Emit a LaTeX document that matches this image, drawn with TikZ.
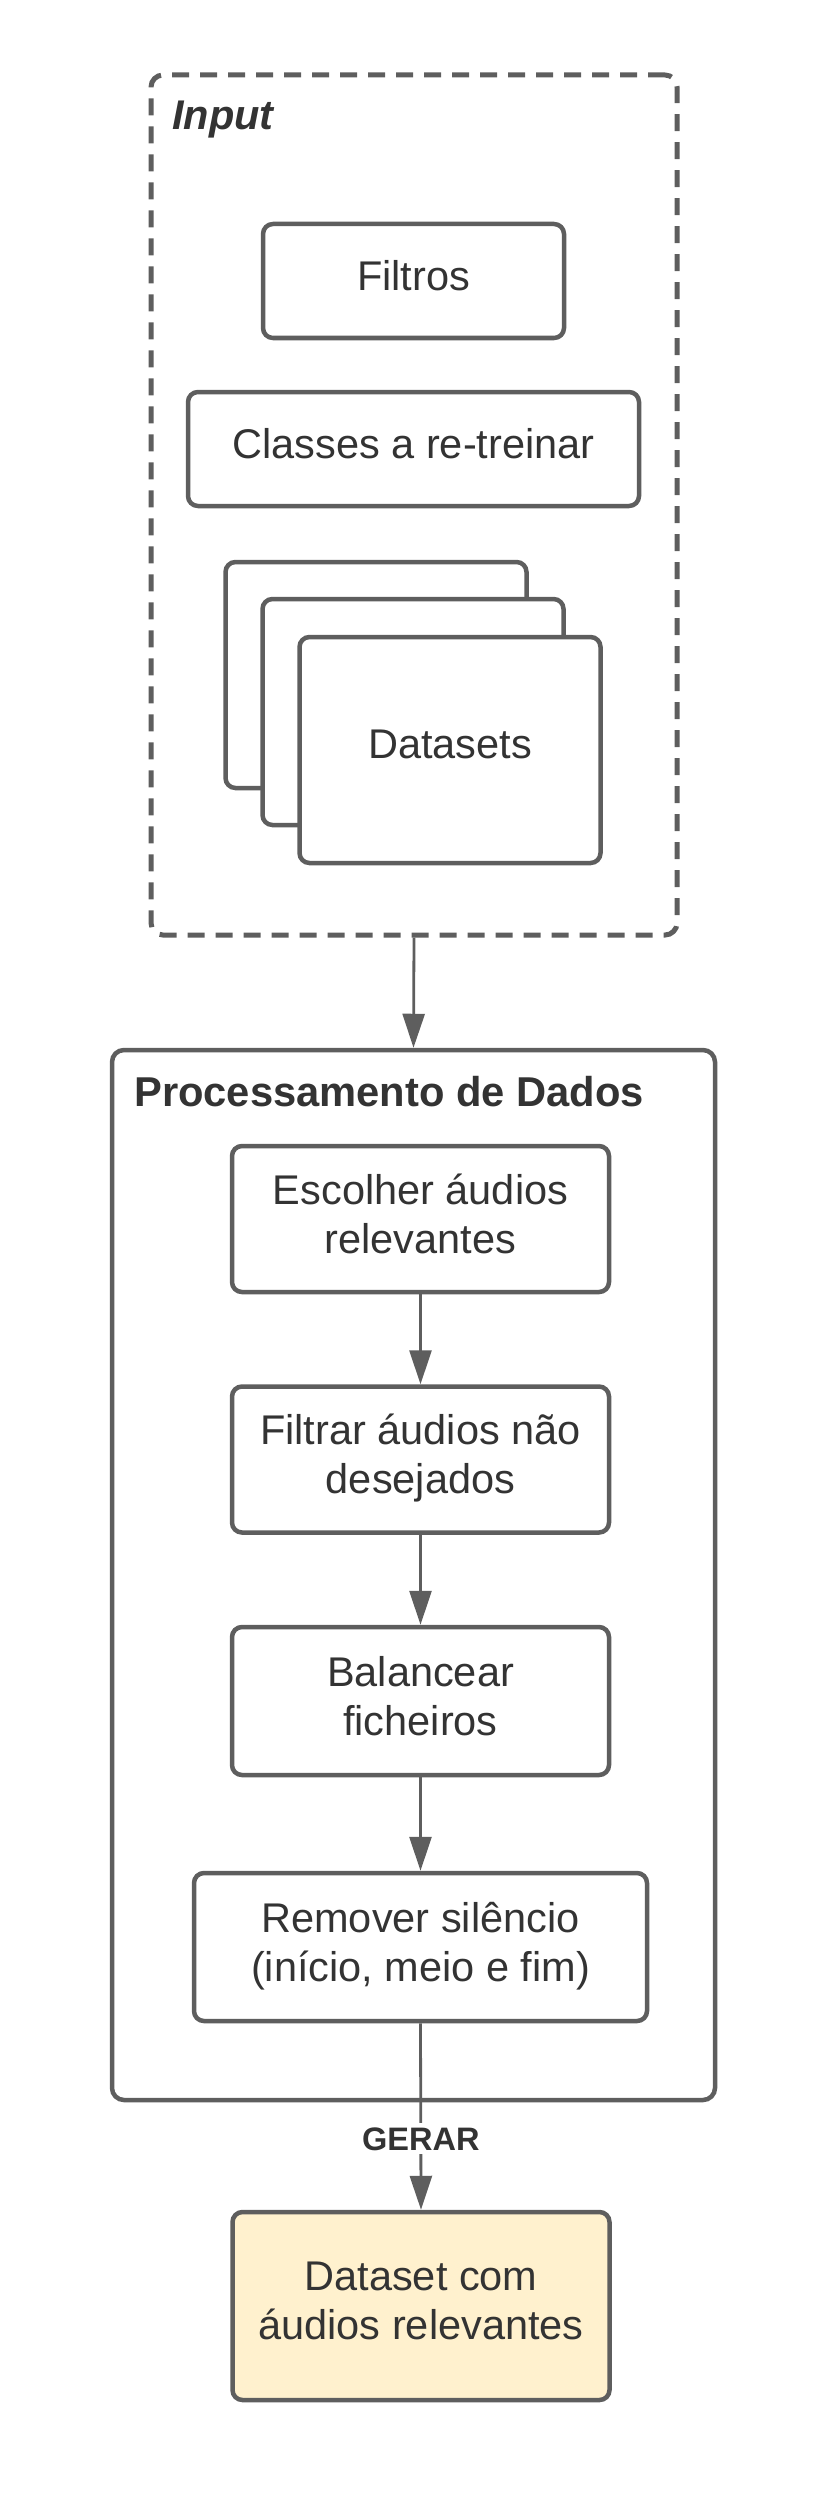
\documentclass[tikz,border=0pt]{standalone}
\usepackage{fontspec}
\setmainfont{Liberation Sans}
\usetikzlibrary{arrows.meta}
\definecolor{strk}{HTML}{5E5E5E}
\definecolor{txt}{HTML}{333333}
\definecolor{yel}{HTML}{FFF1CE}
\tikzset{
  box/.style={draw=strk, line width=4.5pt, rounded corners=10pt, fill=white,
    text=txt, align=center, inner sep=0pt, font=\fontsize{41.5}{49}\selectfont,
    execute at end node={\rule[-11pt]{0pt}{11pt}}},
  dashbox/.style={draw=strk, line width=5pt, rounded corners=12pt,
    dash pattern=on 17pt off 11pt, inner sep=0pt},
  outerbox/.style={draw=strk, line width=4.5pt, rounded corners=12pt, inner sep=0pt},
  conn/.style={draw=strk, line width=2.8pt, -{Triangle[length=34pt,width=22pt]}},
  ttl/.style={text=txt, inner sep=0pt, anchor=base west},
  lbl/.style={text=txt, fill=white, inner sep=4pt, font=\bfseries\fontsize{32.5}{36}\selectfont}
}
\begin{document}
\begin{tikzpicture}[x=1pt,y=-1pt]
\useasboundingbox (0,0) rectangle (819,2496);
% Input group
\node[dashbox, minimum width=526pt, minimum height=860pt] (inputbox) at (414,505) {};
\node[ttl, font=\bfseries\itshape\fontsize{41.5}{48}\selectfont] (inputttl) at (172,130) {Input};
\node[box, minimum width=301pt, minimum height=114pt] (filtros) at (413.5,281) {Filtros};
\node[box, minimum width=451pt, minimum height=114pt] (classes) at (413.5,449) {Classes a re-treinar};
\node[box, minimum width=301pt, minimum height=226pt] (ds3) at (376,675) {};
\node[box, minimum width=301pt, minimum height=226pt] (ds2) at (413,712) {};
\node[box, minimum width=301pt, minimum height=226pt] (ds1) at (450,750) {Datasets};
% Processing group
\node[outerbox, minimum width=603pt, minimum height=1050pt] (proc) at (413.5,1575) {};
\node[ttl, font=\bfseries\fontsize{41.7}{48}\selectfont] (procttl) at (134,1106) {Processamento de Dados};
\node[box, minimum width=377pt, minimum height=146pt] (escolher) at (420.5,1219) {Escolher áudios\\relevantes};
\node[box, minimum width=377pt, minimum height=146pt] (filtrar) at (420.5,1459.5) {Filtrar áudios não\\desejados};
\node[box, minimum width=377pt, minimum height=148pt] (balancear) at (420.5,1701) {Balancear\\ficheiros};
\node[box, minimum width=453pt, minimum height=148pt] (remover) at (420.5,1947) {Remover silêncio\\(início, meio e fim)};
\node[box, fill=yel, minimum width=377pt, minimum height=188pt] (final) at (421,2306) {Dataset com\\áudios relevantes};
% Connectors
\draw[conn] (inputbox.south) -- (proc.north);
\draw[conn] (escolher.south) -- (filtrar.north);
\draw[conn] (filtrar.south) -- (balancear.north);
\draw[conn] (balancear.south) -- (remover.north);
\draw[conn] (remover.south) -- node[lbl, pos=0.62] {GERAR} (final.north);
\end{tikzpicture}
\end{document}
